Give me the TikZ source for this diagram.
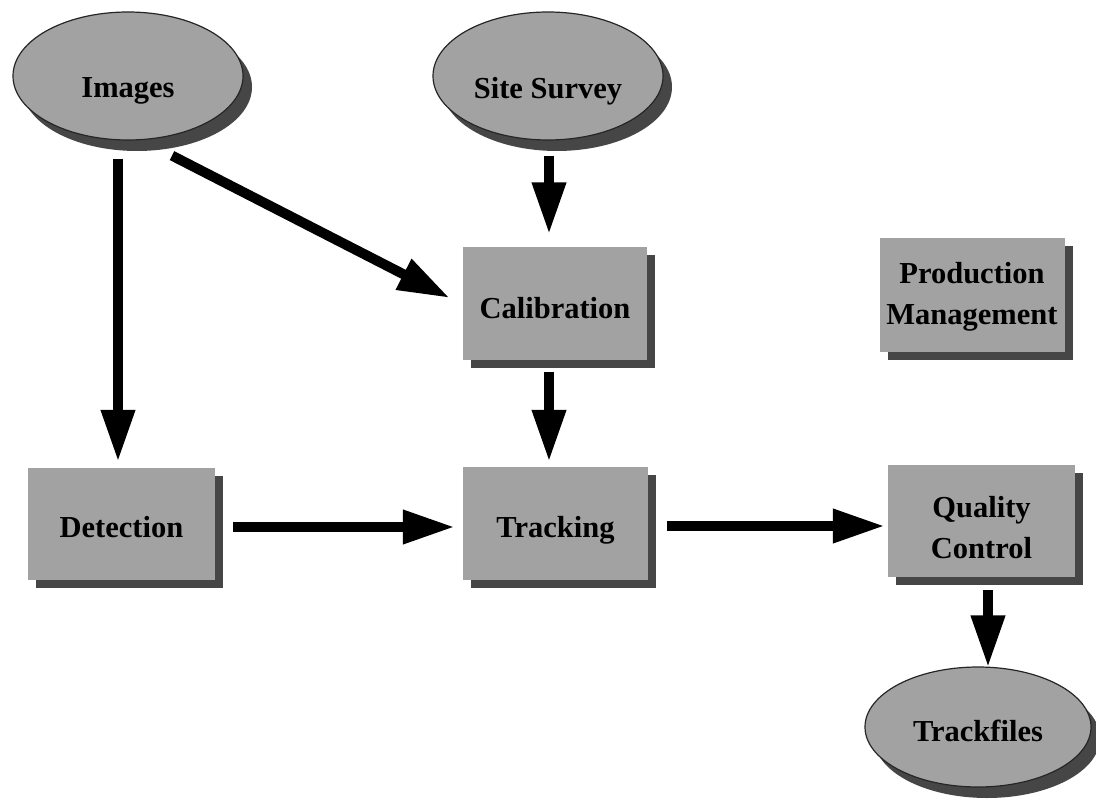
\documentclass[tikz,border=0pt]{standalone}
\usepackage{fontspec}
\setmainfont{Liberation Serif}
\usetikzlibrary{arrows.meta,shapes.geometric,shadows}
\definecolor{fillgray}{RGB}{162,162,162}
\definecolor{shadowgray}{RGB}{70,70,70}
\begin{document}
\begin{tikzpicture}[x=1pt,y=-1pt,
  lbl/.style={font=\bfseries\fontsize{30.5}{41}\selectfont, align=center, inner sep=0pt},
  stepbox/.style={rectangle, fill=fillgray, inner sep=0pt,
    drop shadow={shadow xshift=8pt, shadow yshift=-8pt, fill=shadowgray, opacity=1}},
  oval/.style={ellipse, fill=fillgray, draw=black!85, line width=1.2pt, inner sep=0pt,
    drop shadow={shadow xshift=9pt, shadow yshift=-11pt, fill=shadowgray, opacity=1}},
  txt/.style 2 args={label={[lbl, yshift=#1]center:#2}},
  arr/.style={line width=10pt, -{Triangle[length=52pt,width=32pt]}}]
\useasboundingbox (0,0) rectangle (1096,803);
\fill[white] (0,0) rectangle (1096,803);

\node[oval, minimum width=230pt, minimum height=128pt, txt={-15pt}{Images}] (img) at (128,76) {};
\node[oval, minimum width=230pt, minimum height=128pt, txt={-15pt}{Site Survey}] (site) at (548,76) {};
\node[stepbox, minimum width=184pt, minimum height=113pt, txt={-5pt}{Calibration}] (cal) at (555,303) {};
\node[stepbox, minimum width=185pt, minimum height=114pt, txt={-2pt}{Production\\Management}] (pm) at (972,295) {};
\node[stepbox, minimum width=187pt, minimum height=112pt, txt={-3pt}{Detection}] (det) at (121.5,524) {};
\node[stepbox, minimum width=185pt, minimum height=113pt, txt={-7pt}{Tracking}] (trk) at (555.5,523.5) {};
\node[stepbox, minimum width=187pt, minimum height=112pt, txt={-7pt}{Quality\\Control}] (qc) at (981.5,521) {};
\node[oval, minimum width=226pt, minimum height=120pt, txt={-4pt}{Trackfiles}] (tf) at (978,727) {};

\draw[arr] ([xshift=-10pt,yshift=-18pt]img.south) -- ([xshift=-3.5pt,yshift=6pt]det.north);
\draw[arr] ([xshift=44pt,yshift=-15pt]img.south) -- ([xshift=-13pt,yshift=5pt]cal.west);
\draw[arr] ([xshift=1pt,yshift=-15pt]site.south) -- ([xshift=-6pt,yshift=12pt]cal.north);
\draw[arr] ([xshift=-6pt,yshift=-12pt]cal.south) -- ([xshift=-6.5pt,yshift=5pt]trk.north);
\draw[arr] ([xshift=18pt,yshift=-3pt]det.east) -- ([xshift=-8pt,yshift=-3.5pt]trk.west);
\draw[arr] ([xshift=19pt,yshift=-2.5pt]trk.east) -- ([xshift=-3pt,yshift=-5pt]qc.west);
\draw[arr] ([xshift=6.5pt,yshift=-13pt]qc.south) -- ([xshift=10pt,yshift=-1pt]tf.north);
\end{tikzpicture}
\end{document}
